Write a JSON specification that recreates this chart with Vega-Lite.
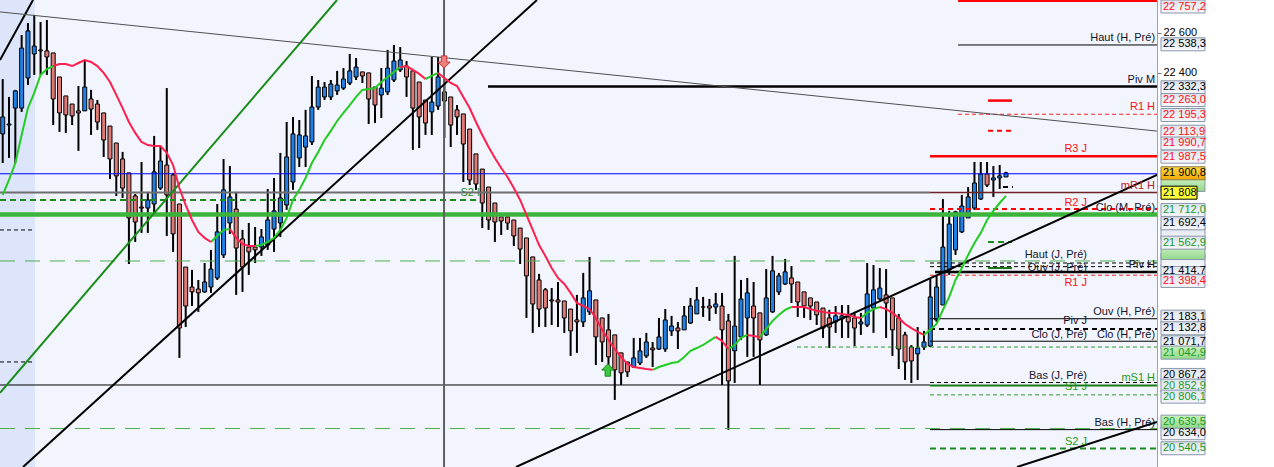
{
"$schema":"https://vega.github.io/schema/vega-lite/v6.json",
"width":1157,"height":467,
"autosize":{"type":"none"},
"padding":{"left":0,"top":0,"right":117,"bottom":0},
"background":"#ffffff",
"config":{"view":{"stroke":null,"fill":"#f2f5fd"},"font":"Liberation Sans","scale":{"continuousPadding":0}},
"resolve":{"axis":{"y":"independent","x":"independent"}},
"datasets":{
"candles":[
{"i":0,"o":22098,"h":22370,"l":21954,"c":22182,"g":21796,"r":null},
{"i":1,"o":22142,"h":22281,"l":21979,"c":22147,"g":21870,"r":null},
{"i":2,"o":22226,"h":22316,"l":21954,"c":22311,"g":21954,"r":null},
{"i":3,"o":22226,"h":22588,"l":22207,"c":22523,"g":22093,"r":null},
{"i":4,"o":22375,"h":22647,"l":22340,"c":22608,"g":22226,"r":null},
{"i":5,"o":22494,"h":22687,"l":22390,"c":22533,"g":22301,"r":null},
{"i":6,"o":22514,"h":22652,"l":22390,"c":22509,"g":22390,"r":null},
{"i":7,"o":22509,"h":22662,"l":22390,"c":22479,"g":22419,"r":null},
{"i":8,"o":22499,"h":22499,"l":22142,"c":22271,"g":22434,"r":22434},
{"i":9,"o":22380,"h":22380,"l":22108,"c":22202,"g":null,"r":22444},
{"i":10,"o":22286,"h":22286,"l":22103,"c":22192,"g":null,"r":22444},
{"i":11,"o":22246,"h":22246,"l":22142,"c":22187,"g":null,"r":22434},
{"i":12,"o":22212,"h":22335,"l":22014,"c":22202,"g":null,"r":22449},
{"i":13,"o":22212,"h":22459,"l":22212,"c":22330,"g":null,"r":22464},
{"i":14,"o":22271,"h":22316,"l":22093,"c":22221,"g":null,"r":22454},
{"i":15,"o":22246,"h":22266,"l":22118,"c":22157,"g":null,"r":22434},
{"i":16,"o":22202,"h":22202,"l":21984,"c":22068,"g":null,"r":22400},
{"i":17,"o":22137,"h":22137,"l":21875,"c":21974,"g":null,"r":22355},
{"i":18,"o":22053,"h":22053,"l":21791,"c":21890,"g":null,"r":22291},
{"i":19,"o":21974,"h":22009,"l":21781,"c":21830,"g":null,"r":22226},
{"i":20,"o":21905,"h":21905,"l":21454,"c":21682,"g":null,"r":22157},
{"i":21,"o":21791,"h":21801,"l":21563,"c":21662,"g":null,"r":22103},
{"i":22,"o":21736,"h":21959,"l":21608,"c":21731,"g":null,"r":22058},
{"i":23,"o":21731,"h":21811,"l":21608,"c":21771,"g":null,"r":22043},
{"i":24,"o":21751,"h":22088,"l":21697,"c":21910,"g":22038,"r":22038},
{"i":25,"o":21830,"h":22033,"l":21821,"c":21964,"g":22038,"r":22038},
{"i":26,"o":21944,"h":22325,"l":21593,"c":21796,"g":null,"r":22004},
{"i":27,"o":21895,"h":21905,"l":21514,"c":21603,"g":null,"r":21944},
{"i":28,"o":21751,"h":21751,"l":20989,"c":21137,"g":null,"r":21830},
{"i":29,"o":21439,"h":21439,"l":21142,"c":21246,"g":null,"r":21746},
{"i":30,"o":21340,"h":21425,"l":21246,"c":21316,"g":null,"r":21672},
{"i":31,"o":21330,"h":21375,"l":21217,"c":21311,"g":null,"r":21613},
{"i":32,"o":21316,"h":21459,"l":21311,"c":21365,"g":null,"r":21583},
{"i":33,"o":21340,"h":21524,"l":21311,"c":21429,"g":21563,"r":21563},
{"i":34,"o":21385,"h":21751,"l":21375,"c":21613,"g":21593,"r":null},
{"i":35,"o":21499,"h":21974,"l":21484,"c":21821,"g":21623,"r":null},
{"i":36,"o":21657,"h":21939,"l":21603,"c":21786,"g":21627,"r":21627},
{"i":37,"o":21726,"h":21811,"l":21301,"c":21533,"g":null,"r":21583},
{"i":38,"o":21578,"h":21623,"l":21316,"c":21439,"g":null,"r":21553},
{"i":39,"o":21538,"h":21657,"l":21400,"c":21514,"g":null,"r":21543},
{"i":40,"o":21538,"h":21637,"l":21459,"c":21524,"g":21543,"r":21543},
{"i":41,"o":21538,"h":21627,"l":21494,"c":21588,"g":21548,"r":null},
{"i":42,"o":21548,"h":21825,"l":21524,"c":21672,"g":21563,"r":null},
{"i":43,"o":21627,"h":21880,"l":21514,"c":21717,"g":21583,"r":null},
{"i":44,"o":21657,"h":22004,"l":21588,"c":21781,"g":21623,"r":null},
{"i":45,"o":21746,"h":22157,"l":21722,"c":21984,"g":21682,"r":null},
{"i":46,"o":21860,"h":22182,"l":21821,"c":22098,"g":21771,"r":null},
{"i":47,"o":21979,"h":22167,"l":21934,"c":22093,"g":21821,"r":null},
{"i":48,"o":22033,"h":22217,"l":21934,"c":22088,"g":21880,"r":null},
{"i":49,"o":22058,"h":22385,"l":22043,"c":22231,"g":21954,"r":null},
{"i":50,"o":22231,"h":22365,"l":22217,"c":22330,"g":22009,"r":null},
{"i":51,"o":22281,"h":22355,"l":22266,"c":22330,"g":22068,"r":null},
{"i":52,"o":22281,"h":22365,"l":22266,"c":22345,"g":22113,"r":null},
{"i":53,"o":22311,"h":22410,"l":22291,"c":22340,"g":22162,"r":null},
{"i":54,"o":22325,"h":22424,"l":22316,"c":22370,"g":22202,"r":null},
{"i":55,"o":22350,"h":22494,"l":22340,"c":22410,"g":22241,"r":null},
{"i":56,"o":22380,"h":22474,"l":22365,"c":22429,"g":22281,"r":null},
{"i":57,"o":22405,"h":22405,"l":22350,"c":22385,"g":22316,"r":null},
{"i":58,"o":22400,"h":22400,"l":22147,"c":22271,"g":22320,"r":null},
{"i":59,"o":22330,"h":22330,"l":22152,"c":22241,"g":22325,"r":null},
{"i":60,"o":22291,"h":22424,"l":22177,"c":22325,"g":22355,"r":null},
{"i":61,"o":22306,"h":22514,"l":22291,"c":22424,"g":22380,"r":null},
{"i":62,"o":22365,"h":22538,"l":22355,"c":22459,"g":22405,"r":null},
{"i":63,"o":22415,"h":22528,"l":22405,"c":22464,"g":22429,"r":22429},
{"i":64,"o":22434,"h":22459,"l":22281,"c":22380,"g":null,"r":22434},
{"i":65,"o":22410,"h":22410,"l":22019,"c":22226,"g":null,"r":22415},
{"i":66,"o":22355,"h":22355,"l":22028,"c":22182,"g":null,"r":22395},
{"i":67,"o":22266,"h":22266,"l":22093,"c":22152,"g":22370,"r":22370},
{"i":68,"o":22207,"h":22479,"l":22093,"c":22256,"g":22385,"r":null},
{"i":69,"o":22236,"h":22479,"l":22217,"c":22380,"g":22400,"r":22400},
{"i":70,"o":22306,"h":22375,"l":22078,"c":22261,"g":null,"r":22375},
{"i":71,"o":22281,"h":22281,"l":22033,"c":22142,"g":null,"r":22350},
{"i":72,"o":22217,"h":22241,"l":22093,"c":22182,"g":null,"r":22335},
{"i":73,"o":22197,"h":22197,"l":21860,"c":22048,"g":null,"r":22281},
{"i":74,"o":22122,"h":22122,"l":21845,"c":21870,"g":null,"r":22226},
{"i":75,"o":21999,"h":21999,"l":21821,"c":21850,"g":null,"r":22157},
{"i":76,"o":21924,"h":21924,"l":21632,"c":21756,"g":null,"r":22093},
{"i":77,"o":21835,"h":21835,"l":21623,"c":21672,"g":null,"r":22033},
{"i":78,"o":21756,"h":21756,"l":21563,"c":21662,"g":null,"r":21979},
{"i":79,"o":21687,"h":21687,"l":21598,"c":21667,"g":null,"r":21929},
{"i":80,"o":21687,"h":21697,"l":21623,"c":21657,"g":null,"r":21885},
{"i":81,"o":21672,"h":21672,"l":21543,"c":21593,"g":null,"r":21830},
{"i":82,"o":21632,"h":21632,"l":21454,"c":21528,"g":null,"r":21771},
{"i":83,"o":21583,"h":21583,"l":21187,"c":21395,"g":null,"r":21697},
{"i":84,"o":21489,"h":21489,"l":21113,"c":21256,"g":null,"r":21623},
{"i":85,"o":21375,"h":21405,"l":21142,"c":21231,"g":null,"r":21548},
{"i":86,"o":21326,"h":21335,"l":21142,"c":21236,"g":null,"r":21494},
{"i":87,"o":21276,"h":21335,"l":21152,"c":21271,"g":null,"r":21434},
{"i":88,"o":21276,"h":21365,"l":21142,"c":21266,"g":null,"r":21385},
{"i":89,"o":21271,"h":21271,"l":21113,"c":21187,"g":null,"r":21355},
{"i":90,"o":21231,"h":21231,"l":20999,"c":21123,"g":null,"r":21311},
{"i":91,"o":21177,"h":21301,"l":21014,"c":21167,"g":null,"r":21261},
{"i":92,"o":21167,"h":21410,"l":21142,"c":21286,"g":null,"r":21246},
{"i":93,"o":21217,"h":21489,"l":21202,"c":21321,"g":null,"r":21231},
{"i":94,"o":21276,"h":21276,"l":20954,"c":21093,"g":null,"r":21187},
{"i":95,"o":21187,"h":21187,"l":20969,"c":21068,"g":null,"r":21128},
{"i":96,"o":21128,"h":21207,"l":20944,"c":20994,"g":null,"r":21078},
{"i":97,"o":21103,"h":21103,"l":20781,"c":20930,"g":null,"r":21033},
{"i":98,"o":21014,"h":21014,"l":20855,"c":20915,"g":null,"r":20994},
{"i":99,"o":20969,"h":20969,"l":20895,"c":20920,"g":null,"r":20959},
{"i":100,"o":20944,"h":21088,"l":20939,"c":20989,"g":null,"r":20944},
{"i":101,"o":20964,"h":21088,"l":20954,"c":21024,"g":null,"r":20939},
{"i":102,"o":20999,"h":21113,"l":20989,"c":21068,"g":null,"r":20934},
{"i":103,"o":21038,"h":21068,"l":20944,"c":21029,"g":20930,"r":20930},
{"i":104,"o":21033,"h":21187,"l":21029,"c":21093,"g":20944,"r":null},
{"i":105,"o":21033,"h":21231,"l":21019,"c":21177,"g":20954,"r":null},
{"i":106,"o":21123,"h":21197,"l":21098,"c":21147,"g":20964,"r":null},
{"i":107,"o":21137,"h":21167,"l":21033,"c":21123,"g":20969,"r":null},
{"i":108,"o":21128,"h":21246,"l":21128,"c":21197,"g":20994,"r":null},
{"i":109,"o":21162,"h":21286,"l":21157,"c":21246,"g":21024,"r":null},
{"i":110,"o":21207,"h":21340,"l":21207,"c":21276,"g":21038,"r":null},
{"i":111,"o":21241,"h":21291,"l":21192,"c":21241,"g":21053,"r":null},
{"i":112,"o":21246,"h":21281,"l":21172,"c":21236,"g":21073,"r":null},
{"i":113,"o":21241,"h":21311,"l":21207,"c":21256,"g":21093,"r":21093},
{"i":114,"o":21246,"h":21311,"l":20855,"c":21128,"g":null,"r":21073},
{"i":115,"o":21172,"h":21207,"l":20633,"c":20875,"g":21033,"r":21033},
{"i":116,"o":21024,"h":21494,"l":20865,"c":21147,"g":21053,"r":null},
{"i":117,"o":21093,"h":21375,"l":21078,"c":21281,"g":21088,"r":null},
{"i":118,"o":21187,"h":21385,"l":20994,"c":21311,"g":21103,"r":21103},
{"i":119,"o":21246,"h":21365,"l":20994,"c":21187,"g":null,"r":21098},
{"i":120,"o":21212,"h":21212,"l":20855,"c":21078,"g":21093,"r":21093},
{"i":121,"o":21103,"h":21429,"l":21098,"c":21286,"g":21132,"r":null},
{"i":122,"o":21217,"h":21494,"l":21212,"c":21420,"g":21172,"r":null},
{"i":123,"o":21316,"h":21410,"l":21301,"c":21395,"g":21202,"r":null},
{"i":124,"o":21355,"h":21479,"l":21350,"c":21415,"g":21227,"r":null},
{"i":125,"o":21385,"h":21444,"l":21261,"c":21355,"g":21241,"r":21241},
{"i":126,"o":21365,"h":21365,"l":21192,"c":21266,"g":null,"r":21241},
{"i":127,"o":21316,"h":21316,"l":21187,"c":21246,"g":null,"r":21241},
{"i":128,"o":21286,"h":21286,"l":21177,"c":21246,"g":null,"r":21231},
{"i":129,"o":21266,"h":21266,"l":21152,"c":21202,"g":null,"r":21222},
{"i":130,"o":21236,"h":21236,"l":21088,"c":21137,"g":null,"r":21217},
{"i":131,"o":21187,"h":21227,"l":21038,"c":21142,"g":null,"r":21212},
{"i":132,"o":21167,"h":21246,"l":21113,"c":21197,"g":null,"r":21212},
{"i":133,"o":21182,"h":21251,"l":21088,"c":21197,"g":null,"r":21207},
{"i":134,"o":21192,"h":21251,"l":21088,"c":21167,"g":null,"r":21202},
{"i":135,"o":21187,"h":21217,"l":21048,"c":21137,"g":null,"r":21192},
{"i":136,"o":21157,"h":21212,"l":21103,"c":21167,"g":21187,"r":21187},
{"i":137,"o":21152,"h":21459,"l":21142,"c":21306,"g":21212,"r":null},
{"i":138,"o":21236,"h":21449,"l":21113,"c":21326,"g":21231,"r":null},
{"i":139,"o":21281,"h":21434,"l":21276,"c":21335,"g":21241,"r":21241},
{"i":140,"o":21301,"h":21429,"l":21088,"c":21261,"g":null,"r":21231},
{"i":141,"o":21286,"h":21286,"l":20999,"c":21128,"g":null,"r":21212},
{"i":142,"o":21187,"h":21207,"l":20934,"c":21033,"g":null,"r":21187},
{"i":143,"o":21103,"h":21118,"l":20880,"c":20969,"g":null,"r":21157},
{"i":144,"o":21043,"h":21053,"l":20865,"c":20974,"g":null,"r":21137},
{"i":145,"o":21009,"h":21142,"l":20880,"c":21038,"g":null,"r":21118},
{"i":146,"o":21043,"h":21123,"l":21029,"c":21068,"g":21103,"r":21103},
{"i":147,"o":21048,"h":21380,"l":21043,"c":21291,"g":21128,"r":null},
{"i":148,"o":21177,"h":21395,"l":21167,"c":21340,"g":21157,"r":null},
{"i":149,"o":21251,"h":21776,"l":21251,"c":21538,"g":21227,"r":null},
{"i":150,"o":21425,"h":21717,"l":21400,"c":21652,"g":21291,"r":null},
{"i":151,"o":21524,"h":21717,"l":21499,"c":21712,"g":21375,"r":null},
{"i":152,"o":21613,"h":21796,"l":21608,"c":21741,"g":21434,"r":null},
{"i":153,"o":21682,"h":21835,"l":21682,"c":21786,"g":21499,"r":null},
{"i":154,"o":21731,"h":21959,"l":21722,"c":21855,"g":21558,"r":null},
{"i":155,"o":21776,"h":21959,"l":21771,"c":21900,"g":21608,"r":null},
{"i":156,"o":21900,"h":21959,"l":21835,"c":21845,"g":21672,"r":null},
{"i":157,"o":21870,"h":21939,"l":21786,"c":21880,"g":21717,"r":null},
{"i":158,"o":21880,"h":21944,"l":21825,"c":21890,"g":21756,"r":null},
{"i":159,"o":21885,"h":21910,"l":21885,"c":21905,"g":21791,"r":null}
],
"shade":[{"a":-0.43,"b":5.12}],
"vline":[{"a":69.94}],
"tl_black":[{"x1":-0.43,"y1":22464,"x2":4.8,"y2":22761},{"x1":3.22,"y1":20449,"x2":84.67,"y2":22761},{"x1":81.35,"y1":20449,"x2":182.93,"y2":21895},{"x1":160.75,"y1":20449,"x2":182.93,"y2":20672}],
"tl_green":[{"x1":-0.43,"y1":20816,"x2":52.98,"y2":22761}],
"tl_grey":[{"x1":-0.43,"y1":22702,"x2":182.93,"y2":22112}],
"lv_red_thick":[{"a":151.4,"b":182.93,"p":22757.2},{"a":146.96,"b":182.93,"p":21987.5},{"a":156.15,"b":159.95,"p":22263.0}],
"lv_red_dash2":[{"a":146.96,"b":182.93,"p":21726.5},{"a":156.15,"b":159.95,"p":22113.9}],
"lv_red_dash1":[{"a":151.4,"b":182.93,"p":22195.3},{"a":146.96,"b":182.93,"p":21398.4}],
"lv_black_thin":[{"a":151.4,"b":182.93,"p":22538.3},{"a":146.96,"b":182.93,"p":21183.1},{"a":146.96,"b":182.93,"p":21071.7},{"a":146.96,"b":182.93,"p":20634.0},{"a":-0.43,"b":146.96,"p":20855}],
"lv_black_thick":[{"a":76.91,"b":182.93,"p":22332.3},{"a":147.75,"b":182.93,"p":21414.7}],
"lv_black_dash1":[{"a":146.96,"b":182.93,"p":21459},{"a":146.96,"b":182.93,"p":21441},{"a":146.96,"b":182.93,"p":20867.2},{"a":-0.43,"b":5.12,"p":21622.5},{"a":-0.43,"b":5.12,"p":20969}],
"lv_black_dash2":[{"a":146.96,"b":182.93,"p":21132.8},{"a":158.53,"b":160.1,"p":21835}],
"lv_green_thick":[{"a":-0.43,"b":182.93,"p":21699}],
"lv_green_dash2":[{"a":-0.43,"b":75.64,"p":21771},{"a":146.96,"b":182.93,"p":20540.5},{"a":156.15,"b":159.95,"p":21562.9}],
"lv_green_dash1":[{"a":146.96,"b":182.93,"p":20806.1},{"a":125.88,"b":182.93,"p":21042.9}],
"lv_green_long":[{"a":-0.43,"b":182.93,"p":21469},{"a":-0.43,"b":182.93,"p":20639.5}],
"lv_green_solid":[{"a":146.96,"b":182.93,"p":20852.9},{"a":156.15,"b":159.95,"p":21434}],
"lv_blue":[{"a":-0.43,"b":182.93,"p":21900.8}],
"lv_grey":[{"a":-0.43,"b":146.96,"p":21808}],
"lv_brown":[{"a":146.96,"b":182.93,"p":21808}],
"arrow_dn":[{"i":69.94,"p":22454}],
"arrow_up":[{"i":95.9,"p":20929}],
"lb_r_black":[{"p":22572.9,"t":"Haut (H, Pré)"},{"p":22365,"t":"Piv M"},{"p":21731.4,"t":"Clo (M, Pré)"},{"p":21449.3,"t":"Piv H"},{"p":21216.6,"t":"Ouv (H, Pré)"},{"p":21102.8,"t":"Clo (H, Pré)"},{"p":20667.2,"t":"Bas (H, Pré)"}],
"lb_r_red":[{"p":22231.4,"t":"R1 H"}],
"lb_r_brown":[{"p":21840.3,"t":"mR1 H"}],
"lb_r_green":[{"p":20889.9,"t":"mS1 H"}],
"lb_j_black":[{"p":21498.8,"t":"Haut (J, Pré)"},{"p":21434.4,"t":"Ouv (J, Pré)"},{"p":21172.1,"t":"Piv J"},{"p":21102.8,"t":"Clo (J, Pré)"},{"p":20899.8,"t":"Bas (J, Pré)"}],
"lb_j_red":[{"p":22023.5,"t":"R3 J"},{"p":21756.2,"t":"R2 J"},{"p":21360.2,"t":"R1 J"}],
"lb_j_green":[{"p":20845.4,"t":"S1 J"},{"p":20573.1,"t":"S2 J"}],
"lb_s2h":[{"p":21805.7,"t":"S2 H"}],
"bx1_norm":[{"p":21721.5},{"p":21607.7},{"p":21419.6},{"p":21474}],
"bx1_green":[{"p":21845.3},{"p":21508.7}],
"tx1_green":[{"p":21721.5,"t":"21 712,0"}],
"tx1_black":[{"p":21419.6,"t":"21 414,7"}],
"bx2_norm":[{"p":22728.8},{"p":22541.7},{"p":22328.9},{"p":22266},{"p":22191.8},{"p":22109.1},{"p":22050.7},{"p":21985.3},{"p":21655.7},{"p":21559.6},{"p":21370.1},{"p":21193.3},{"p":21135.9},{"p":21066.6},{"p":20904.8},{"p":20851.8},{"p":20797.3},{"p":20616.2},{"p":20541.9}],
"bx2_green":[{"p":21015.1},{"p":20673.6}],
"bx2_gold":[{"p":21903.2}],
"bx2_yellow":[{"p":21807.1}],
"tx2_red":[{"p":22728.8,"t":"22 757,2"},{"p":22266,"t":"22 263,0"},{"p":22191.8,"t":"22 195,3"},{"p":22109.1,"t":"22 113,9"},{"p":22050.7,"t":"21 990,7"},{"p":21985.3,"t":"21 987,5"},{"p":21370.1,"t":"21 398,4"}],
"tx2_black":[{"p":22541.7,"t":"22 538,3"},{"p":22328.9,"t":"22 332,3"},{"p":21903.2,"t":"21 900,8"},{"p":21807.1,"t":"21 808"},{"p":21655.7,"t":"21 692,4"},{"p":21193.3,"t":"21 183,1"},{"p":21135.9,"t":"21 132,8"},{"p":21066.6,"t":"21 071,7"},{"p":20904.8,"t":"20 867,2"},{"p":20616.2,"t":"20 634,0"}],
"tx2_green":[{"p":21559.6,"t":"21 562,9"},{"p":21015.1,"t":"21 042,9"},{"p":20851.8,"t":"20 852,9"},{"p":20797.3,"t":"20 806,1"},{"p":20673.6,"t":"20 639,5"},{"p":20541.9,"t":"20 540,5"}]
},
"layer":[
{"data":{"name":"shade"},"mark":{"type":"rect","color":"#dce5fa"},"encoding":{"x":{"field":"a","type":"quantitative","scale":{"domain":[-0.43,182.93],"nice":false,"zero":false,"padding":0},"axis":null},"x2":{"field":"b"}}},
{"data":{"name":"lb_s2h"},"mark":{"type":"text","align":"right","baseline":"middle","fontSize":11,"color":"#1a8c1a"},"encoding":{"x":{"datum":76.43,"type":"quantitative","scale":{"domain":[-0.43,182.93],"nice":false,"zero":false,"padding":0},"axis":null},"y":{"field":"p","type":"quantitative","scale":{"domain":[20449,22761],"nice":false,"zero":false,"padding":0},"axis":null},"text":{"field":"t"}}},
{"data":{"name":"candles"},"mark":{"type":"rule","color":"#000000","strokeWidth":2},"encoding":{"x":{"field":"i","type":"quantitative","scale":{"domain":[-0.43,182.93],"nice":false,"zero":false,"padding":0},"axis":null},"y":{"field":"h","type":"quantitative","scale":{"domain":[20449,22761],"nice":false,"zero":false,"padding":0},"axis":{"orient":"right","values":[22600,22400],"labelExpr":"replace(format(datum.value, ','), ',', ' ')","title":null,"grid":false,"tickSize":4,"tickColor":"#6f7888","domainColor":"#9aa3b4","labelFontSize":11,"labelColor":"#000000","labelPadding":2,"labelFont":"Liberation Sans","zindex":1}},"y2":{"field":"l"}}},
{"data":{"name":"candles"},"mark":{"type":"bar","width":4,"stroke":"#000000","strokeWidth":1},"encoding":{"x":{"field":"i","type":"quantitative","scale":{"domain":[-0.43,182.93],"nice":false,"zero":false,"padding":0},"axis":null},"y":{"field":"o","type":"quantitative","scale":{"domain":[20449,22761],"nice":false,"zero":false,"padding":0},"axis":null},"y2":{"field":"c"},"color":{"condition":{"test":"datum.c >= datum.o","value":"#2180e8"},"value":"#e07a76"}}},
{"data":{"name":"lv_green_long"},"mark":{"type":"rule","color":"#4caf50","strokeWidth":1,"strokeDash":[15,10]},"encoding":{"x":{"field":"a","type":"quantitative","scale":{"domain":[-0.43,182.93],"nice":false,"zero":false,"padding":0},"axis":null},"x2":{"field":"b"},"y":{"field":"p","type":"quantitative","scale":{"domain":[20449,22761],"nice":false,"zero":false,"padding":0},"axis":null}}},
{"data":{"name":"lv_blue"},"mark":{"type":"rule","color":"#0000ff","strokeWidth":1},"encoding":{"x":{"field":"a","type":"quantitative","scale":{"domain":[-0.43,182.93],"nice":false,"zero":false,"padding":0},"axis":null},"x2":{"field":"b"},"y":{"field":"p","type":"quantitative","scale":{"domain":[20449,22761],"nice":false,"zero":false,"padding":0},"axis":null}}},
{"data":{"name":"lv_grey"},"mark":{"type":"rule","color":"#6e6e6e","strokeWidth":2},"encoding":{"x":{"field":"a","type":"quantitative","scale":{"domain":[-0.43,182.93],"nice":false,"zero":false,"padding":0},"axis":null},"x2":{"field":"b"},"y":{"field":"p","type":"quantitative","scale":{"domain":[20449,22761],"nice":false,"zero":false,"padding":0},"axis":null}}},
{"data":{"name":"lv_brown"},"mark":{"type":"rule","color":"#6e2424","strokeWidth":1.5},"encoding":{"x":{"field":"a","type":"quantitative","scale":{"domain":[-0.43,182.93],"nice":false,"zero":false,"padding":0},"axis":null},"x2":{"field":"b"},"y":{"field":"p","type":"quantitative","scale":{"domain":[20449,22761],"nice":false,"zero":false,"padding":0},"axis":null}}},
{"data":{"name":"lv_green_thick"},"mark":{"type":"rule","color":"#3cb43c","strokeWidth":4.5},"encoding":{"x":{"field":"a","type":"quantitative","scale":{"domain":[-0.43,182.93],"nice":false,"zero":false,"padding":0},"axis":null},"x2":{"field":"b"},"y":{"field":"p","type":"quantitative","scale":{"domain":[20449,22761],"nice":false,"zero":false,"padding":0},"axis":null}}},
{"data":{"name":"lv_green_dash2"},"mark":{"type":"rule","color":"#1a8c1a","strokeWidth":2,"strokeDash":[6,4]},"encoding":{"x":{"field":"a","type":"quantitative","scale":{"domain":[-0.43,182.93],"nice":false,"zero":false,"padding":0},"axis":null},"x2":{"field":"b"},"y":{"field":"p","type":"quantitative","scale":{"domain":[20449,22761],"nice":false,"zero":false,"padding":0},"axis":null}}},
{"data":{"name":"lv_green_dash1"},"mark":{"type":"rule","color":"#2a9a2a","strokeWidth":1,"strokeDash":[4,3]},"encoding":{"x":{"field":"a","type":"quantitative","scale":{"domain":[-0.43,182.93],"nice":false,"zero":false,"padding":0},"axis":null},"x2":{"field":"b"},"y":{"field":"p","type":"quantitative","scale":{"domain":[20449,22761],"nice":false,"zero":false,"padding":0},"axis":null}}},
{"data":{"name":"lv_green_solid"},"mark":{"type":"rule","color":"#1a7a1a","strokeWidth":2},"encoding":{"x":{"field":"a","type":"quantitative","scale":{"domain":[-0.43,182.93],"nice":false,"zero":false,"padding":0},"axis":null},"x2":{"field":"b"},"y":{"field":"p","type":"quantitative","scale":{"domain":[20449,22761],"nice":false,"zero":false,"padding":0},"axis":null}}},
{"data":{"name":"lv_black_thin"},"mark":{"type":"rule","color":"#000000","strokeWidth":1},"encoding":{"x":{"field":"a","type":"quantitative","scale":{"domain":[-0.43,182.93],"nice":false,"zero":false,"padding":0},"axis":null},"x2":{"field":"b"},"y":{"field":"p","type":"quantitative","scale":{"domain":[20449,22761],"nice":false,"zero":false,"padding":0},"axis":null}}},
{"data":{"name":"lv_black_thick"},"mark":{"type":"rule","color":"#000000","strokeWidth":2.5},"encoding":{"x":{"field":"a","type":"quantitative","scale":{"domain":[-0.43,182.93],"nice":false,"zero":false,"padding":0},"axis":null},"x2":{"field":"b"},"y":{"field":"p","type":"quantitative","scale":{"domain":[20449,22761],"nice":false,"zero":false,"padding":0},"axis":null}}},
{"data":{"name":"lv_black_dash1"},"mark":{"type":"rule","color":"#000000","strokeWidth":1,"strokeDash":[4,3]},"encoding":{"x":{"field":"a","type":"quantitative","scale":{"domain":[-0.43,182.93],"nice":false,"zero":false,"padding":0},"axis":null},"x2":{"field":"b"},"y":{"field":"p","type":"quantitative","scale":{"domain":[20449,22761],"nice":false,"zero":false,"padding":0},"axis":null}}},
{"data":{"name":"lv_black_dash2"},"mark":{"type":"rule","color":"#000000","strokeWidth":2,"strokeDash":[5,4]},"encoding":{"x":{"field":"a","type":"quantitative","scale":{"domain":[-0.43,182.93],"nice":false,"zero":false,"padding":0},"axis":null},"x2":{"field":"b"},"y":{"field":"p","type":"quantitative","scale":{"domain":[20449,22761],"nice":false,"zero":false,"padding":0},"axis":null}}},
{"data":{"name":"lv_red_thick"},"mark":{"type":"rule","color":"#ff0000","strokeWidth":2.5},"encoding":{"x":{"field":"a","type":"quantitative","scale":{"domain":[-0.43,182.93],"nice":false,"zero":false,"padding":0},"axis":null},"x2":{"field":"b"},"y":{"field":"p","type":"quantitative","scale":{"domain":[20449,22761],"nice":false,"zero":false,"padding":0},"axis":null}}},
{"data":{"name":"lv_red_dash2"},"mark":{"type":"rule","color":"#ff0000","strokeWidth":2,"strokeDash":[5,4]},"encoding":{"x":{"field":"a","type":"quantitative","scale":{"domain":[-0.43,182.93],"nice":false,"zero":false,"padding":0},"axis":null},"x2":{"field":"b"},"y":{"field":"p","type":"quantitative","scale":{"domain":[20449,22761],"nice":false,"zero":false,"padding":0},"axis":null}}},
{"data":{"name":"lv_red_dash1"},"mark":{"type":"rule","color":"#ff2020","strokeWidth":1,"strokeDash":[4,3]},"encoding":{"x":{"field":"a","type":"quantitative","scale":{"domain":[-0.43,182.93],"nice":false,"zero":false,"padding":0},"axis":null},"x2":{"field":"b"},"y":{"field":"p","type":"quantitative","scale":{"domain":[20449,22761],"nice":false,"zero":false,"padding":0},"axis":null}}},
{"data":{"name":"vline"},"mark":{"type":"rule","color":"#606060","strokeWidth":2},"encoding":{"x":{"field":"a","type":"quantitative","scale":{"domain":[-0.43,182.93],"nice":false,"zero":false,"padding":0},"axis":null}}},
{"data":{"name":"tl_black"},"mark":{"type":"rule","color":"#000000","strokeWidth":2,"clip":true},"encoding":{"x":{"field":"x1","type":"quantitative","scale":{"domain":[-0.43,182.93],"nice":false,"zero":false,"padding":0},"axis":null},"x2":{"field":"x2"},"y":{"field":"y1","type":"quantitative","scale":{"domain":[20449,22761],"nice":false,"zero":false,"padding":0},"axis":null},"y2":{"field":"y2"}}},
{"data":{"name":"tl_green"},"mark":{"type":"rule","color":"#1a8c1a","strokeWidth":2,"clip":true},"encoding":{"x":{"field":"x1","type":"quantitative","scale":{"domain":[-0.43,182.93],"nice":false,"zero":false,"padding":0},"axis":null},"x2":{"field":"x2"},"y":{"field":"y1","type":"quantitative","scale":{"domain":[20449,22761],"nice":false,"zero":false,"padding":0},"axis":null},"y2":{"field":"y2"}}},
{"data":{"name":"tl_grey"},"mark":{"type":"rule","color":"#505050","strokeWidth":1,"clip":true},"encoding":{"x":{"field":"x1","type":"quantitative","scale":{"domain":[-0.43,182.93],"nice":false,"zero":false,"padding":0},"axis":null},"x2":{"field":"x2"},"y":{"field":"y1","type":"quantitative","scale":{"domain":[20449,22761],"nice":false,"zero":false,"padding":0},"axis":null},"y2":{"field":"y2"}}},
{"data":{"name":"candles"},"mark":{"type":"line","color":"#22cc22","strokeWidth":2,"invalid":"break-paths-filter-domains"},"encoding":{"x":{"field":"i","type":"quantitative","scale":{"domain":[-0.43,182.93],"nice":false,"zero":false,"padding":0},"axis":null},"y":{"field":"g","type":"quantitative","scale":{"domain":[20449,22761],"nice":false,"zero":false,"padding":0},"axis":null}}},
{"data":{"name":"candles"},"mark":{"type":"line","color":"#ff1f4f","strokeWidth":2,"invalid":"break-paths-filter-domains"},"encoding":{"x":{"field":"i","type":"quantitative","scale":{"domain":[-0.43,182.93],"nice":false,"zero":false,"padding":0},"axis":null},"y":{"field":"r","type":"quantitative","scale":{"domain":[20449,22761],"nice":false,"zero":false,"padding":0},"axis":null}}},
{"data":{"name":"arrow_dn"},"mark":{"type":"point","shape":"M-0.45,-1L0.45,-1L0.45,0L1,0L0,1L-1,0L-0.45,0Z","size":150,"filled":true,"fill":"#ee8080","stroke":"#cc3333","strokeWidth":1,"opacity":1},"encoding":{"x":{"field":"i","type":"quantitative","scale":{"domain":[-0.43,182.93],"nice":false,"zero":false,"padding":0},"axis":null},"y":{"field":"p","type":"quantitative","scale":{"domain":[20449,22761],"nice":false,"zero":false,"padding":0},"axis":null}}},
{"data":{"name":"arrow_up"},"mark":{"type":"point","shape":"M-0.45,1L0.45,1L0.45,0L1,0L0,-1L-1,0L-0.45,0Z","size":150,"filled":true,"fill":"#3cc83c","stroke":"#1a8a1a","strokeWidth":1,"opacity":1},"encoding":{"x":{"field":"i","type":"quantitative","scale":{"domain":[-0.43,182.93],"nice":false,"zero":false,"padding":0},"axis":null},"y":{"field":"p","type":"quantitative","scale":{"domain":[20449,22761],"nice":false,"zero":false,"padding":0},"axis":null}}},
{"data":{"name":"lb_r_black"},"mark":{"type":"text","align":"right","baseline":"middle","fontSize":11,"color":"#14142a"},"encoding":{"x":{"datum":182.62,"type":"quantitative","scale":{"domain":[-0.43,182.93],"nice":false,"zero":false,"padding":0},"axis":null},"y":{"field":"p","type":"quantitative","scale":{"domain":[20449,22761],"nice":false,"zero":false,"padding":0},"axis":null},"text":{"field":"t"}}},
{"data":{"name":"lb_r_red"},"mark":{"type":"text","align":"right","baseline":"middle","fontSize":11,"color":"#ff1010"},"encoding":{"x":{"datum":182.62,"type":"quantitative","scale":{"domain":[-0.43,182.93],"nice":false,"zero":false,"padding":0},"axis":null},"y":{"field":"p","type":"quantitative","scale":{"domain":[20449,22761],"nice":false,"zero":false,"padding":0},"axis":null},"text":{"field":"t"}}},
{"data":{"name":"lb_r_brown"},"mark":{"type":"text","align":"right","baseline":"middle","fontSize":11,"color":"#c02020"},"encoding":{"x":{"datum":182.62,"type":"quantitative","scale":{"domain":[-0.43,182.93],"nice":false,"zero":false,"padding":0},"axis":null},"y":{"field":"p","type":"quantitative","scale":{"domain":[20449,22761],"nice":false,"zero":false,"padding":0},"axis":null},"text":{"field":"t"}}},
{"data":{"name":"lb_r_green"},"mark":{"type":"text","align":"right","baseline":"middle","fontSize":11,"color":"#1a9a1a"},"encoding":{"x":{"datum":182.62,"type":"quantitative","scale":{"domain":[-0.43,182.93],"nice":false,"zero":false,"padding":0},"axis":null},"y":{"field":"p","type":"quantitative","scale":{"domain":[20449,22761],"nice":false,"zero":false,"padding":0},"axis":null},"text":{"field":"t"}}},
{"data":{"name":"lb_j_black"},"mark":{"type":"text","align":"right","baseline":"middle","fontSize":11,"color":"#14142a"},"encoding":{"x":{"datum":171.84,"type":"quantitative","scale":{"domain":[-0.43,182.93],"nice":false,"zero":false,"padding":0},"axis":null},"y":{"field":"p","type":"quantitative","scale":{"domain":[20449,22761],"nice":false,"zero":false,"padding":0},"axis":null},"text":{"field":"t"}}},
{"data":{"name":"lb_j_red"},"mark":{"type":"text","align":"right","baseline":"middle","fontSize":11,"color":"#ff1010"},"encoding":{"x":{"datum":171.84,"type":"quantitative","scale":{"domain":[-0.43,182.93],"nice":false,"zero":false,"padding":0},"axis":null},"y":{"field":"p","type":"quantitative","scale":{"domain":[20449,22761],"nice":false,"zero":false,"padding":0},"axis":null},"text":{"field":"t"}}},
{"data":{"name":"lb_j_green"},"mark":{"type":"text","align":"right","baseline":"middle","fontSize":11,"color":"#1a9a1a"},"encoding":{"x":{"datum":171.84,"type":"quantitative","scale":{"domain":[-0.43,182.93],"nice":false,"zero":false,"padding":0},"axis":null},"y":{"field":"p","type":"quantitative","scale":{"domain":[20449,22761],"nice":false,"zero":false,"padding":0},"axis":null},"text":{"field":"t"}}},
{"data":{"name":"bx1_norm"},"mark":{"type":"tick","orient":"vertical","size":13,"thickness":44,"filled":true,"opacity":1,"fill":{"gradient":"linear","x1":0,"y1":0,"x2":0,"y2":1,"stops":[{"offset":0,"color":"#dde3ef"},{"offset":1,"color":"#f7f8fb"}]},"stroke":"#8a97ab","strokeWidth":1},"encoding":{"x":{"datum":187.05,"type":"quantitative","scale":{"domain":[-0.43,182.93],"nice":false,"zero":false,"padding":0},"axis":null},"y":{"field":"p","type":"quantitative","scale":{"domain":[20449,22761],"nice":false,"zero":false,"padding":0},"axis":null}}},
{"data":{"name":"bx1_green"},"mark":{"type":"tick","orient":"vertical","size":13,"thickness":44,"filled":true,"opacity":1,"fill":{"gradient":"linear","x1":0,"y1":0,"x2":0,"y2":1,"stops":[{"offset":0,"color":"#c8efc0"},{"offset":1,"color":"#94d98c"}]},"stroke":"#8a97ab","strokeWidth":1},"encoding":{"x":{"datum":187.05,"type":"quantitative","scale":{"domain":[-0.43,182.93],"nice":false,"zero":false,"padding":0},"axis":null},"y":{"field":"p","type":"quantitative","scale":{"domain":[20449,22761],"nice":false,"zero":false,"padding":0},"axis":null}}},
{"data":{"name":"tx1_green"},"mark":{"type":"text","align":"left","baseline":"middle","fontSize":11,"color":"#1a9a1a"},"encoding":{"x":{"datum":183.88,"type":"quantitative","scale":{"domain":[-0.43,182.93],"nice":false,"zero":false,"padding":0},"axis":null},"y":{"field":"p","type":"quantitative","scale":{"domain":[20449,22761],"nice":false,"zero":false,"padding":0},"axis":null},"text":{"field":"t"}}},
{"data":{"name":"tx1_black"},"mark":{"type":"text","align":"left","baseline":"middle","fontSize":11,"color":"#000000"},"encoding":{"x":{"datum":183.88,"type":"quantitative","scale":{"domain":[-0.43,182.93],"nice":false,"zero":false,"padding":0},"axis":null},"y":{"field":"p","type":"quantitative","scale":{"domain":[20449,22761],"nice":false,"zero":false,"padding":0},"axis":null},"text":{"field":"t"}}},
{"data":{"name":"bx2_norm"},"mark":{"type":"tick","orient":"vertical","size":13,"thickness":44,"filled":true,"opacity":1,"fill":{"gradient":"linear","x1":0,"y1":0,"x2":0,"y2":1,"stops":[{"offset":0,"color":"#dde3ef"},{"offset":1,"color":"#f7f8fb"}]},"stroke":"#8a97ab","strokeWidth":1},"encoding":{"x":{"datum":187.05,"type":"quantitative","scale":{"domain":[-0.43,182.93],"nice":false,"zero":false,"padding":0},"axis":null},"y":{"field":"p","type":"quantitative","scale":{"domain":[20449,22761],"nice":false,"zero":false,"padding":0},"axis":null}}},
{"data":{"name":"bx2_green"},"mark":{"type":"tick","orient":"vertical","size":13,"thickness":44,"filled":true,"opacity":1,"fill":{"gradient":"linear","x1":0,"y1":0,"x2":0,"y2":1,"stops":[{"offset":0,"color":"#c8efc0"},{"offset":1,"color":"#94d98c"}]},"stroke":"#8a97ab","strokeWidth":1},"encoding":{"x":{"datum":187.05,"type":"quantitative","scale":{"domain":[-0.43,182.93],"nice":false,"zero":false,"padding":0},"axis":null},"y":{"field":"p","type":"quantitative","scale":{"domain":[20449,22761],"nice":false,"zero":false,"padding":0},"axis":null}}},
{"data":{"name":"bx2_gold"},"mark":{"type":"tick","orient":"vertical","size":13,"thickness":44,"filled":true,"opacity":1,"fill":{"gradient":"linear","x1":0,"y1":0,"x2":0,"y2":1,"stops":[{"offset":0,"color":"#ffd84a"},{"offset":1,"color":"#f2a800"}]},"stroke":"#8a7a40","strokeWidth":1},"encoding":{"x":{"datum":187.05,"type":"quantitative","scale":{"domain":[-0.43,182.93],"nice":false,"zero":false,"padding":0},"axis":null},"y":{"field":"p","type":"quantitative","scale":{"domain":[20449,22761],"nice":false,"zero":false,"padding":0},"axis":null}}},
{"data":{"name":"bx2_yellow"},"mark":{"type":"tick","orient":"vertical","size":13,"thickness":36,"filled":true,"opacity":1,"fill":"#ffff3c","stroke":"#000000","strokeWidth":1},"encoding":{"x":{"datum":186.42,"type":"quantitative","scale":{"domain":[-0.43,182.93],"nice":false,"zero":false,"padding":0},"axis":null},"y":{"field":"p","type":"quantitative","scale":{"domain":[20449,22761],"nice":false,"zero":false,"padding":0},"axis":null}}},
{"data":{"name":"tx2_red"},"mark":{"type":"text","align":"left","baseline":"middle","fontSize":11,"color":"#ff1010"},"encoding":{"x":{"datum":183.88,"type":"quantitative","scale":{"domain":[-0.43,182.93],"nice":false,"zero":false,"padding":0},"axis":null},"y":{"field":"p","type":"quantitative","scale":{"domain":[20449,22761],"nice":false,"zero":false,"padding":0},"axis":null},"text":{"field":"t"}}},
{"data":{"name":"tx2_black"},"mark":{"type":"text","align":"left","baseline":"middle","fontSize":11,"color":"#000000"},"encoding":{"x":{"datum":183.88,"type":"quantitative","scale":{"domain":[-0.43,182.93],"nice":false,"zero":false,"padding":0},"axis":null},"y":{"field":"p","type":"quantitative","scale":{"domain":[20449,22761],"nice":false,"zero":false,"padding":0},"axis":null},"text":{"field":"t"}}},
{"data":{"name":"tx2_green"},"mark":{"type":"text","align":"left","baseline":"middle","fontSize":11,"color":"#1a9a1a"},"encoding":{"x":{"datum":183.88,"type":"quantitative","scale":{"domain":[-0.43,182.93],"nice":false,"zero":false,"padding":0},"axis":null},"y":{"field":"p","type":"quantitative","scale":{"domain":[20449,22761],"nice":false,"zero":false,"padding":0},"axis":null},"text":{"field":"t"}}}
]
}
